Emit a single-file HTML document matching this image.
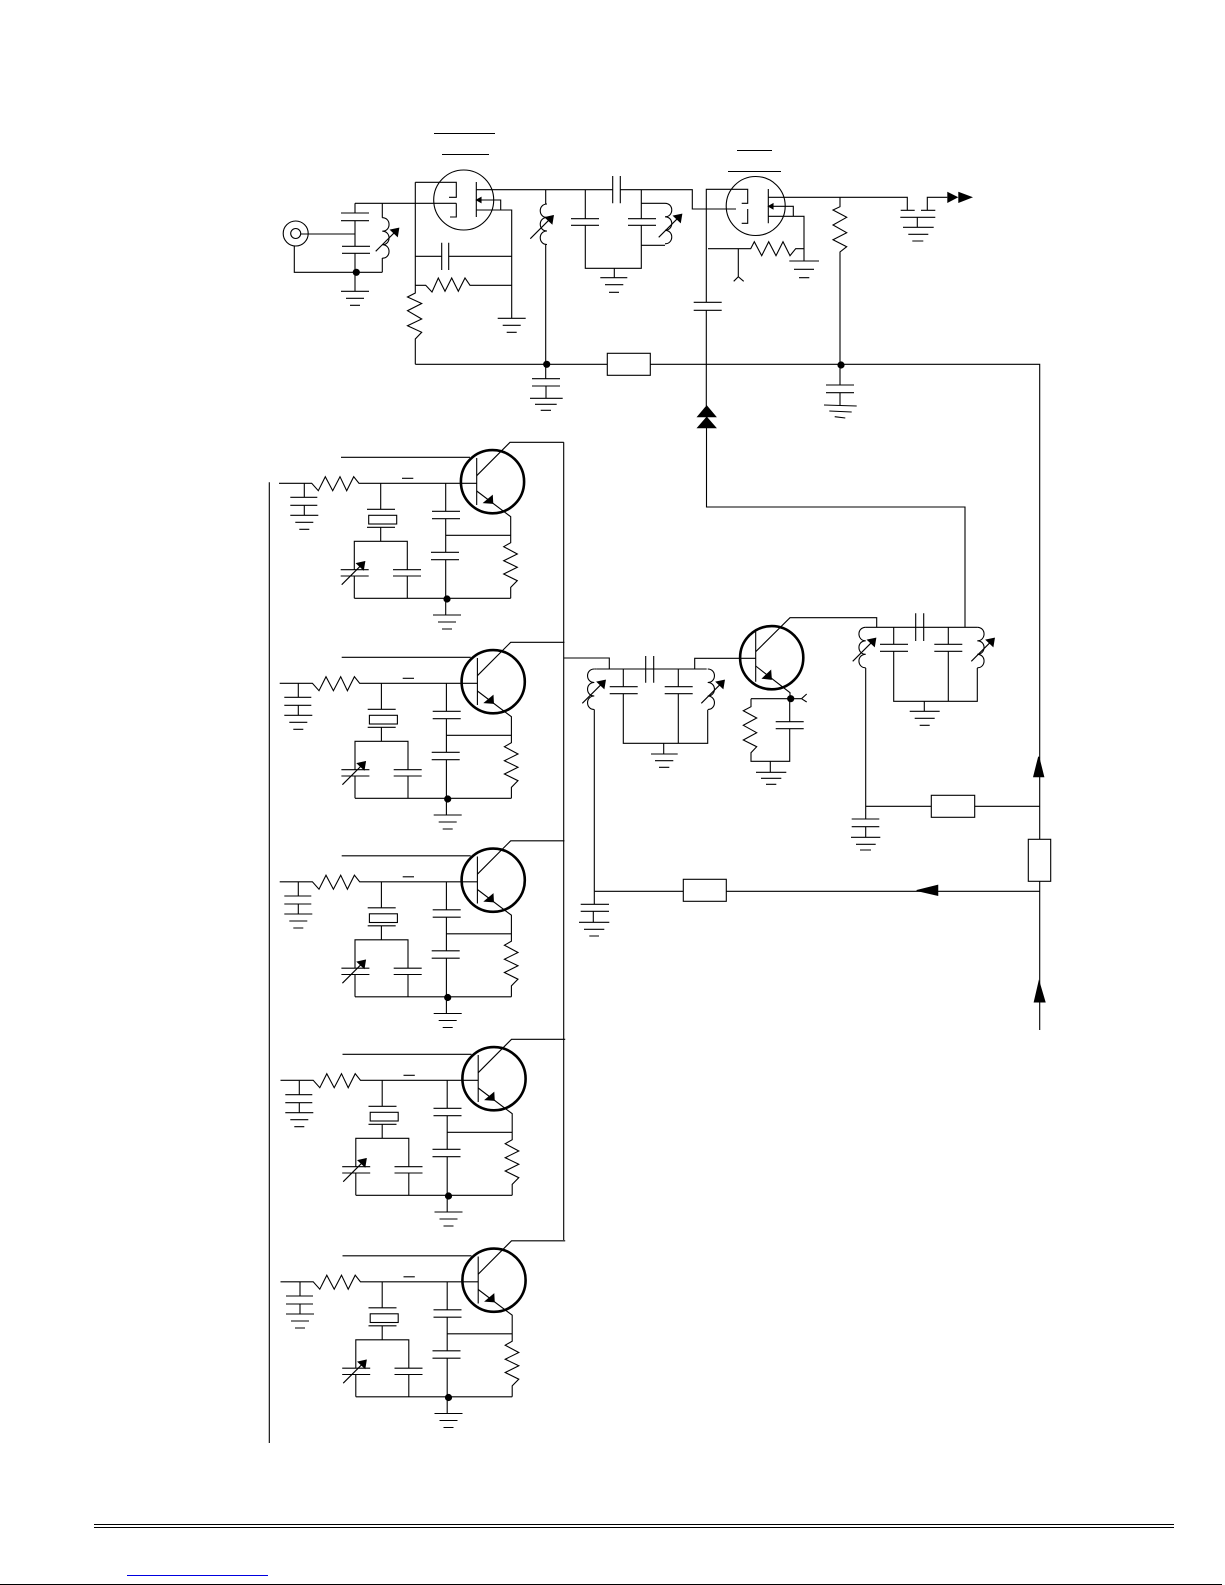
<!DOCTYPE html>
<html><head><meta charset="utf-8"><style>html,body{margin:0;padding:0;background:#fff}svg{display:block}</style></head><body>
<svg xmlns="http://www.w3.org/2000/svg" width="1225" height="1585" viewBox="0 0 1225 1585" fill="none" stroke="#000" stroke-width="1.1">
<defs>
<g id="gnd"><path d="M-14 0H14M-9 7H9M-5 14H5"/></g>
<path id="coil" d="M0 0c9 0 9 13.5 0 13.5c9 0 9 13.5 0 13.5c9 0 9 13.5 0 13.5"/>
<g id="va"><path d="M0 0L23 -23"/><path d="M23 -23L15 -21.3L21.7 -15Z" fill="#000"/></g>
<g id="stage">
<path d="M341 457.3H470"/>
<circle cx="492.5" cy="481.7" r="31.6" stroke-width="2.6"/>
<path d="M279 483.3H311.7L318.3 490.7L325.3 476.7L332.7 490.7L340 476.7L346.7 490.7L353.7 476.7L359 483.3H476.7"/>
<path d="M402 478.3H413.3"/>
<path d="M476.7 458V505"/>
<path d="M476.7 475.7L510 442.3H563.7"/>
<path d="M476.7 491L510.7 516.7V542.7L503.7 546.7L517.3 554L503.7 560.7L517.3 567.3L503.7 574L517.3 580.7L510.7 587.3V598.3"/>
<path d="M484 502.7L492.3 495.7L492.7 503.3Z" fill="#000"/>
<path d="M445.7 483.3V511.3M445.7 518.7V552.3M445.7 559.7V615"/>
<path d="M432 511.3H460M432 518.7H460M431 552.3H459M431 559.7H459"/>
<path d="M445.7 535.3H510.7"/>
<path d="M354.3 598.3H510.7"/>
<circle cx="447" cy="599" r="3.6" fill="#000" stroke="none"/>
<use href="#gnd" x="447" y="615"/>
<path d="M380.7 483.3V509.3M367 509.3H395M367 527.3H395M380.7 527.3V541.3"/>
<rect x="368.7" y="515.3" width="28" height="8.7"/>
<path d="M354.3 576V598.3M354.3 569.7V541.3H407.3V569.7M407.3 576V598.3"/>
<path d="M340.7 569.7H368.7M340.7 576H368.7M393 569.7H421M393 576H421"/>
<use href="#va" x="341.7" y="584.7"/>
</g>
<g id="lcap"><path d="M0 0V14M-14 14H13M-14 22H13M0 22V32"/><use href="#gnd" x="0" y="32"/></g>
</defs>

<!-- top section lines -->
<path d="M434 133.5H495M442 154.5H489M737 150.5H772M728 171.5H781"/>
<circle cx="295.7" cy="233.5" r="12.5"/><circle cx="295.7" cy="233.5" r="5"/>
<path d="M301 234H355M294.3 246V272.3H382.3"/>
<path d="M355 203.3V213M355 221V246.3M355 253.3V291.3M341 213H369M341 220.7H369M342 246.3H370M342 253.3H370"/>
<circle cx="356.3" cy="272.3" r="3.6" fill="#000" stroke="none"/>
<use href="#gnd" x="355" y="291.3"/>
<path d="M355 203.3H456.3M382.3 203.3V217.7M382.3 258V272.3"/>
<use href="#coil" x="382.3" y="217.7"/><use href="#va" x="375.7" y="251.3"/>
<circle cx="463.7" cy="200" r="30"/>
<path d="M415.3 182.3H456.3V197.3H449M456.3 203.3V217H450M415.3 182.3V293L407.5 297L421.7 303.5L407.5 310.7L421.7 319L407.5 325.7L421.7 332.3L415.3 339V364.3"/>
<path d="M476.3 182V217M476.5 189.7H612.7M476.5 210H511.7V318.3M476.5 200H500.7V210"/>
<path d="M476.5 200L481 197.5V202.5Z" fill="#000"/>
<path d="M441.7 242.7V270M448.7 242.7V270M415.3 256.3H441.7M448.7 256.3H511.7"/>
<path d="M415.3 285.3H425.7L432 292L438.3 278L445 291.3L451.7 278L458.3 291.3L465 278L470 285.3H511.7"/>
<use href="#gnd" x="511.7" y="318.3"/>
<path d="M415.3 364.3H607.3"/>
<rect x="607.3" y="353.3" width="43" height="22" fill="#fff"/>
<path d="M650.3 364.3H1039.7V1030"/>
<circle cx="546.7" cy="364.3" r="3.6" fill="#000" stroke="none"/>
<path d="M545.7 189.7V204M545.7 244.5V378.7M532 378.7H560M532 386H560M546 386V398.3"/>
<use href="#coil" transform="translate(547 204) scale(-1 1)"/><use href="#va" x="530.3" y="238.7"/>
<path d="M530 398.3H562.7M535 404.3H556.7M540.7 410.3H551"/>
<path d="M585.3 189.7V218.7M585.3 225.3V268.3H641.3V225.3M641.3 218.7V189.7M571 218.7H599M571 225.3H599M628 218.7H656M628 225.3H656"/>
<path d="M612.7 176V203.3M620.3 176V203.3M620.3 189.7H692.3V209H736"/>
<path d="M614.3 268.3V277.7M600.3 277.7H627.3M605 284.7H623.3M609 292.3H619"/>
<path d="M641.3 203.3H665M641.3 245.3H665"/>
<use href="#coil" x="665" y="203.3"/><use href="#va" x="658.7" y="237.3"/>
<!-- second mosfet -->
<circle cx="755.7" cy="206" r="29.5"/>
<path d="M706.3 302.3V189.3H747.7V203.3H741.7M747.7 209V223.3H741.7M768.3 189V223.3"/>
<path d="M768.3 197.3H907.3V210.3M900.7 210.3H914.7M921 210.3H935.3M927.3 210.3V197.3H947.3"/>
<path d="M947.3 191.7L958.3 197.3L947.3 203ZM958.3 191.7L973 197.3L958.3 203Z" fill="#000" stroke="none"/>
<path d="M900.3 217.3H935.3M917.3 217.3V227.3M903 227.3H933.7M908.3 234.3H928.3M912.3 241H923.3"/>
<path d="M768.3 216.3H804V261M768.3 206.3H793.3V216.3"/>
<path d="M768.5 206.3L773 203.8V208.8Z" fill="#000"/>
<path d="M789.3 261H819M794 269.3H814M799 277.7H809.3"/>
<path d="M708 248.7H750.7L754.3 241.7L761.7 255.7L768.7 241.7L776 255.7L783 241.7L790 255.7L795.7 248.7H804"/>
<path d="M738.3 248.7V276.7M733.7 281.3L738.3 276.7L743.7 281.3"/>
<path d="M693.7 302.3H721.7M693.7 310.3H721.7M706.3 310.3V406"/>
<path d="M697.7 416.7L706.7 406L715.7 416.7ZM697.7 427.7L706.7 417.3L715.7 427.7Z" fill="#000"/>
<path d="M706.5 427.7V507H965V627.3"/>
<path d="M840 197.3V206.7L833 210L846.7 217.3L833 225L846.7 232.7L833 239.7L846.7 246.7L840 252V385M826 385H854M826 392.7H854M840 392.7V405"/>
<circle cx="841" cy="365" r="3.6" fill="#000" stroke="none"/>
<path d="M824 405L856.7 406M829.3 411L851.7 412M834.7 416.7L845.3 418"/>

<!-- buses -->
<path d="M269.3 482.3V1443"/>
<path d="M563.7 442.3V1240"/>
<use href="#stage"/>
<use href="#stage" x="0.7" y="200"/>
<use href="#stage" x="0.7" y="398.5"/>
<use href="#stage" x="1.5" y="597"/>
<use href="#stage" x="1.5" y="798.5"/>
<use href="#lcap" x="304.3" y="483.3"/>
<use href="#lcap" x="298.3" y="683.3"/>
<use href="#lcap" x="298.3" y="882"/>
<use href="#lcap" x="299.3" y="1080.7"/>
<use href="#lcap" x="300" y="1282"/>

<!-- middle section -->
<path d="M563.7 658H609.3V669M596.7 669H706.7"/>
<circle cx="771.7" cy="657.7" r="31.6" stroke-width="2.6"/>
<path d="M694.7 669V658.3H755.7M755.7 631.7V681.7M755.7 651.7L790 617.7H876.7V627.3"/>
<path d="M755.7 666L790 692.7V698.7"/>
<path d="M762.7 678.3L770.7 670.7L771.3 679.3Z" fill="#000"/>
<circle cx="790.7" cy="698.7" r="3.6" fill="#000" stroke="none"/>
<path d="M751 698.7H801M806.7 694L801.5 698.7L806.7 702"/>
<path d="M751 698.7V706.7L743.3 710.7L756.7 718L743.3 725.3L756.7 732.7L743.3 740L756.7 746.7L751 752.7V761.3H789.7V728.7M789.7 721.7V698.7M775.7 721.7H803.7M775.7 728.7H803.7"/>
<path d="M770.3 761.3V772.3"/>
<path d="M756 772.3H786.3M761 778.3H781.3M766 784.3H776.3"/>
<!-- left tank -->
<use href="#coil" transform="translate(594.3 669) scale(-1 1)"/>
<use href="#va" x="582.3" y="703.3"/>
<path d="M594.3 669H596.7M594.3 709.5V891.3"/>
<path d="M623.3 669V686.7M623.3 693.7V743.3H707.7V710M609.7 686.7H637.7M609.7 693.7H637.7M664.7 686.7H692.7M664.7 693.7H692.7M678.3 669V686.7M678.3 693.7V743.3"/>
<path d="M645.7 656V682.7M653.7 656V682.7"/>
<use href="#coil" x="707.7" y="669"/><use href="#va" x="701.3" y="703.3"/>
<path d="M663.7 743.3V754M651 754H677.7M655 760.7H673.3M659 767.3H669.3"/>
<!-- right tank -->
<use href="#coil" transform="translate(865.7 627.3) scale(-1 1)"/>
<use href="#va" x="852.7" y="661.3"/>
<path d="M865.7 627.3H977.3M865.7 668V819"/>
<path d="M893.7 627.3V644.3M893.7 651.3V701.3H977.3V668M880 644.3H908M880 651.3H908M934.3 644.3H962.3M934.3 651.3H962.3M948.3 627.3V644.3M948.3 651.3V701.3"/>
<path d="M915.7 613.3V641M923.7 613.3V641"/>
<use href="#coil" x="977.3" y="627.3"/><use href="#va" x="971.3" y="661.3"/>
<path d="M924.3 701.3V711.3M909.7 711.3H939.7M914.7 718.3H934.7M919.7 725.3H929.7"/>
<!-- bias lines -->
<path d="M865.7 806.3H931.3M974.7 806.3H1039.7"/>
<rect x="931.3" y="795.3" width="43.4" height="22"/>
<path d="M851.7 819H879.3M851.7 826.7H879.3M865.7 826.7V837.3M851 837.3H880.3M856 844.3H875.7M860 850H871"/>
<rect x="1028.3" y="839.3" width="22.4" height="42" fill="#fff"/>
<path d="M1038.7 756.7L1033.7 776.7H1043.7Z" fill="#000"/>
<path d="M594.3 891.3H683.3M726.3 891.3H1039.7"/>
<rect x="683.3" y="879.3" width="43" height="22"/>
<path d="M916.7 890.5L937.7 885.3V895.3Z" fill="#000"/>
<path d="M580.7 904.3H609M580.7 911.3H609M594.3 891.3V904.3M593.3 911.3V922.3M579 922.3H609.3M584 929.3H604.3M589.3 936H599"/>
<path d="M1039 981.7L1034.3 1002H1045Z" fill="#000"/>

<!-- footer -->
<path d="M94 1524.5H1174M94 1527.5H1174"/>
<path d="M127 1575.5H268" stroke="#0000e0"/>
<path d="M0 1584.5H1222"/>
</svg>
</body></html>
